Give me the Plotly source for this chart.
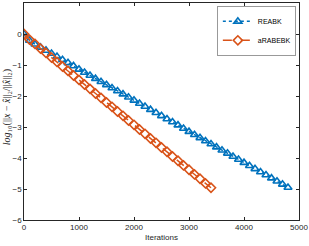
import plotly.graph_objects as go

iters_reabk = [i * 100 for i in range(49)]
err_reabk = [0.00, -0.21, -0.33, -0.43, -0.53, -0.63, -0.73, -0.83, -0.93, -1.03,
             -1.14, -1.24, -1.34, -1.44, -1.54, -1.64, -1.74, -1.84, -1.94, -2.04,
             -2.14, -2.24, -2.34, -2.44, -2.54, -2.64, -2.74, -2.84, -2.94, -3.05,
             -3.15, -3.25, -3.35, -3.45, -3.55, -3.65, -3.75, -3.85, -3.95, -4.05,
             -4.15, -4.25, -4.35, -4.45, -4.55, -4.65, -4.75, -4.85, -4.95]

iters_arabebk = [i * 100 for i in range(35)]
err_arabebk = [0.00, -0.18, -0.32, -0.47, -0.61, -0.76, -0.90, -1.05, -1.19, -1.34,
               -1.48, -1.63, -1.77, -1.92, -2.06, -2.21, -2.35, -2.50, -2.64, -2.79,
               -2.93, -3.08, -3.22, -3.37, -3.51, -3.66, -3.80, -3.95, -4.09, -4.24,
               -4.38, -4.53, -4.67, -4.82, -4.96]

x_ticks = [0, 1000, 2000, 3000, 4000, 5000]
y_ticks = [-6, -5, -4, -3, -2, -1, 0, 1]

y_title = "<i>log</i>₁₀(||<i>x</i> − <i>x̂</i>||₂/||<i>x̂</i>||₂)"

FONT = "Liberation Sans, Arial, sans-serif"
AXC = "#262626"

fig = go.Figure()
fig.add_trace(go.Scatter(
    x=iters_reabk, y=err_reabk, name="REABK", mode="lines+markers",
    line=dict(color="#0072BD", width=1.5, dash="dot"),
    marker=dict(symbol="triangle-up-open", size=7, color="#0072BD",
                line=dict(width=1.6, color="#0072BD")),
))
fig.add_trace(go.Scatter(
    x=iters_arabebk, y=err_arabebk, name="aRABEBK", mode="lines+markers",
    line=dict(color="#D95319", width=1.5, dash="dash"),
    marker=dict(symbol="diamond-open", size=7, color="#D95319",
                line=dict(width=1.6, color="#D95319")),
))

axis_common = dict(
    showgrid=False, zeroline=False, showline=True, mirror="ticks",
    linecolor=AXC, linewidth=0.6, ticks="inside", ticklen=3,
    tickwidth=0.6, tickcolor=AXC, automargin=False,
    tickfont=dict(family=FONT, size=8, color=AXC),
)

fig.update_layout(
    template="none",
    width=309, height=246,
    margin=dict(l=24, r=10, t=3, b=26),
    paper_bgcolor="white", plot_bgcolor="white",
    font=dict(family=FONT, size=8, color=AXC),
    showlegend=True,
    legend=dict(
        x=0.99, y=0.985, xanchor="right", yanchor="top",
        bgcolor="white", bordercolor="#555555", borderwidth=0.6,
        font=dict(family=FONT, size=7, color="#000000"),
        tracegroupgap=0, itemwidth=30,
    ),
    xaxis=dict(range=[0, 5000], tickvals=x_ticks,
               title=dict(text="Iterations", standoff=2,
                          font=dict(family=FONT, size=8, color=AXC)),
               **axis_common),
    yaxis=dict(range=[-6, 1], tickvals=y_ticks, **axis_common),
)

fig.add_annotation(
    text=y_title, textangle=-90, showarrow=False,
    xref="paper", yref="paper", x=0, y=0.52, xshift=-17,
    xanchor="center", yanchor="middle",
    font=dict(family="Liberation Serif, Times New Roman, serif", size=10, color=AXC),
)

fig.write_html("out.html", config={"displayModeBar": False},
               post_script="document.body.style.margin='0';document.body.style.overflow='hidden';")
